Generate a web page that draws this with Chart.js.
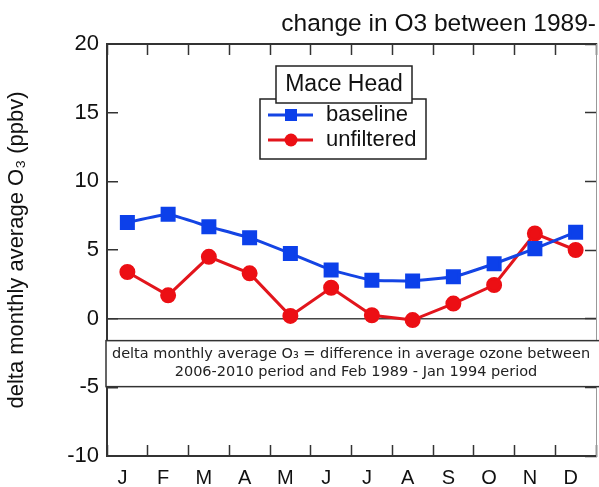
<!DOCTYPE html>
<html>
<head>
<meta charset="utf-8">
<script src="https://cdn.jsdelivr.net/npm/chart.js@4/dist/chart.umd.min.js"></script>
<style>
    html, body { margin: 0; padding: 0; background: #fff; overflow: hidden; }
    #wrap { width: 599px; height: 487px; }
</style>
</head>
<body>
<div id="wrap"><canvas id="o3" width="599" height="487"></canvas></div>
<script>
// monthly delta O3 at Mace Head (ppbv)
const months = ['J', 'F', 'M', 'A', 'M', 'J', 'J', 'A', 'S', 'O', 'N', 'D'];
const baseline = [7.0, 7.6, 6.7, 5.9, 4.75, 3.55, 2.8, 2.75, 3.05, 4.0, 5.1, 6.3];
const unfiltered = [3.4, 1.7, 4.5, 3.3, 0.2, 2.25, 0.25, -0.1, 1.1, 2.45, 6.2, 5.0];
const yMin = -10, yMax = 20, yStep = 5;

const chartTitle = 'change in O3 between 1989-';
const yTitle = 'delta monthly average O\u2083 (ppbv)';
const legendTitle = 'Mace Head';
const noteLines = [
    'delta monthly average O\u2083 = difference in average ozone between',
    '2006-2010 period and Feb 1989 - Jan 1994 period'
];

const axisColor = '#333';
const sans = '"Liberation Sans", Arial, sans-serif';

// no label overflow padding, the plot runs to the edges
const noPadX = s => { s.paddingLeft = 0; s.paddingRight = 0; };
const noPadY = s => { s.paddingTop = 0; s.paddingBottom = 0; };

// legend box + note box drawn on top of the plot
const extras = {
    id: 'extras',
    afterDatasetsDraw(chart) {
        const ctx = chart.ctx;
        const area = chart.chartArea;
        const y = chart.scales.y;
        ctx.save();

        // note box
        const top = y.getPixelForValue(-1.6);
        const bottom = y.getPixelForValue(-4.95);
        ctx.fillStyle = '#fff';
        ctx.strokeStyle = '#333';
        ctx.lineWidth = 1.5;
        ctx.fillRect(area.left - 1, top, 520, bottom - top);
        ctx.strokeRect(area.left - 1, top, 520, bottom - top);
        ctx.fillStyle = '#222';
        ctx.font = '14.5px "DejaVu Sans", Verdana, sans-serif';
        ctx.textAlign = 'center';
        ctx.textBaseline = 'middle';
        ctx.fillText(noteLines[0], area.left + 244, top + 14);
        ctx.fillText(noteLines[1], area.left + 249, top + 32);

        // legend frame
        const lx = area.left + 153, ly = area.top + 55;
        ctx.strokeStyle = '#222';
        ctx.lineWidth = 1.5;
        ctx.fillStyle = '#fff';
        ctx.fillRect(lx, ly, 166, 60);
        ctx.strokeRect(lx, ly, 166, 60);
        // legend title box
        ctx.fillRect(lx + 16, area.top + 22, 136, 37);
        ctx.strokeRect(lx + 16, area.top + 22, 136, 37);
        ctx.fillStyle = '#111';
        ctx.font = '23px ' + sans;
        ctx.fillText(legendTitle, lx + 84, area.top + 41);

        chart.data.datasets.forEach((ds, i) => {
            const cy = ly + 16 + i * 25;
            ctx.strokeStyle = ds.borderColor;
            ctx.lineWidth = 3;
            ctx.beginPath();
            ctx.moveTo(lx + 8, cy);
            ctx.lineTo(lx + 53, cy);
            ctx.stroke();
            ctx.fillStyle = ds.pointBackgroundColor;
            if (ds.pointStyle === 'rect') {
                ctx.fillRect(lx + 31 - 6, cy - 6, 12, 12);
            } else {
                ctx.beginPath();
                ctx.arc(lx + 31, cy, 6.5, 0, Math.PI * 2);
                ctx.fill();
            }
            ctx.fillStyle = '#111';
            ctx.textAlign = 'left';
            ctx.font = '22px ' + sans;
            ctx.fillText(ds.label, lx + 66, cy);
            ctx.textAlign = 'center';
        });
        ctx.restore();
    }
};

new Chart(document.getElementById('o3').getContext('2d'), {
    type: 'line',
    data: {
        labels: months,
        datasets: [{
            label: 'baseline',
            data: baseline,
            borderColor: '#1444e4',
            backgroundColor: '#1444e4',
            pointBackgroundColor: '#0c40ea',
            pointBorderColor: '#0c40ea',
            pointStyle: 'rect',
            pointRadius: 8.5,
            borderWidth: 3,
            tension: 0.1,
            fill: false
        }, {
            label: 'unfiltered',
            data: unfiltered,
            borderColor: '#e2151c',
            backgroundColor: '#e2151c',
            pointBackgroundColor: '#ec0f14',
            pointBorderColor: '#ec0f14',
            pointStyle: 'circle',
            pointRadius: 6.5,
            borderWidth: 3,
            tension: 0,
            fill: false
        }]
    },
    options: {
        responsive: false,
        animation: false,
        devicePixelRatio: 1,
        layout: { padding: 0, autoPadding: false },
        plugins: {
            legend: { display: false },
            tooltip: { enabled: false }
        },
        scales: {
            x: {
                type: 'category',
                position: 'bottom',
                offset: true,
                afterFit: s => { s.height = 31; noPadX(s); },
                grid: { offset: true, drawOnChartArea: false, tickLength: -11, tickColor: axisColor, tickWidth: 1.5 },
                border: { display: true, color: axisColor, width: 2 },
                ticks: { color: '#111', font: { family: sans, size: 20 }, padding: 21, labelOffset: -5, autoSkip: false, maxRotation: 0 }
            },
            x2: {
                type: 'category',
                position: 'top',
                labels: months,
                offset: true,
                afterFit: s => { s.height = 44; noPadX(s); },
                grid: { offset: true, drawOnChartArea: false, tickLength: -11, tickColor: axisColor, tickWidth: 1.5 },
                border: { display: true, color: axisColor, width: 2 },
                ticks: { display: false },
                title: {
                    display: true,
                    text: chartTitle,
                    align: 'end',
                    color: '#111',
                    font: { family: sans, size: 24.5 },
                    padding: { top: 10, bottom: 0 }
                }
            },
            y: {
                min: yMin,
                max: yMax,
                afterFit: s => { s.width = 107; noPadY(s); },
                ticks: { stepSize: yStep, color: '#111', font: { family: sans, size: 22 }, padding: 19 },
                grid: {
                    drawOnChartArea: true,
                    tickLength: -11,
                    tickColor: axisColor,
                    tickWidth: 1.5,
                    color: c => (c.tick && c.tick.value === 0) ? '#444' : 'rgba(0,0,0,0)',
                    lineWidth: 1.5
                },
                border: { display: true, color: axisColor, width: 2 },
                title: {
                    display: true,
                    text: yTitle,
                    color: '#111',
                    font: { family: sans, size: 22 },
                    padding: { top: 4, bottom: 0 }
                }
            },
            y2: {
                position: 'right',
                min: yMin,
                max: yMax,
                afterFit: s => { s.width = 3; noPadY(s); },
                ticks: { stepSize: yStep, display: false },
                grid: { drawOnChartArea: false, tickLength: -11, tickColor: axisColor, tickWidth: 1.5 },
                border: { display: true, color: '#999', width: 1 }
            }
        }
    },
    plugins: [extras]
});
</script>
</body>
</html>
